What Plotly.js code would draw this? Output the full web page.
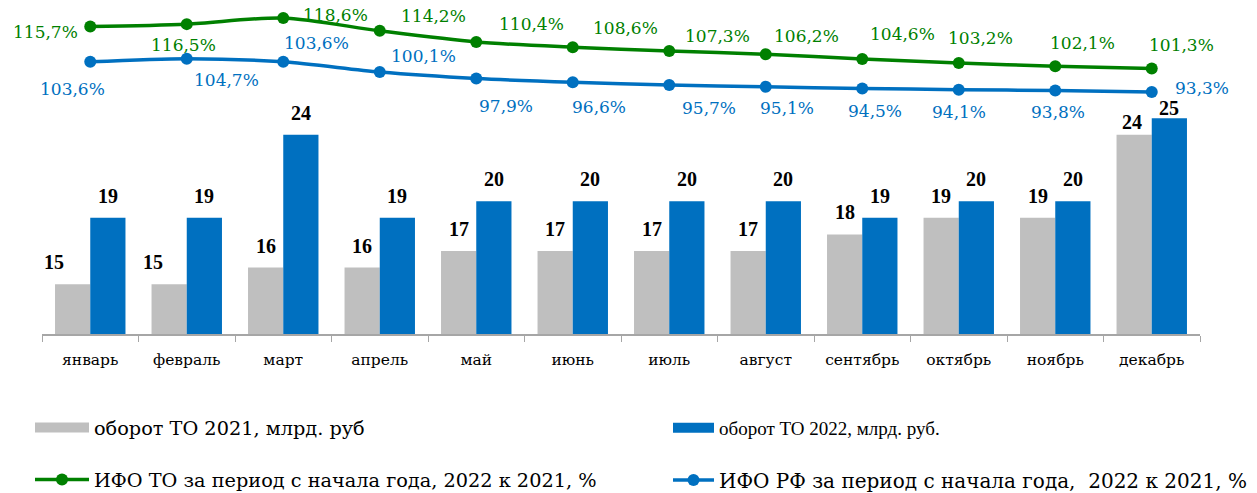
<!DOCTYPE html>
<html>
<head>
<meta charset="utf-8">
<script src="https://cdn.plot.ly/plotly-3.0.1.min.js"></script>
<style>html,body{margin:0;padding:0;background:#fff;}#chart{width:1257px;height:493px;}</style>
</head>
<body>
<div id="chart"></div>
<script>
// ---- data ----
const months = ['январь','февраль','март','апрель','май','июнь','июль','август','сентябрь','октябрь','ноябрь','декабрь'];
const turnover2021 = [15,15,16,16,17,17,17,17,18,19,19,24];
const turnover2022 = [19,19,24,19,20,20,20,20,19,20,20,25];
const ifoTO = [115.7,116.5,118.6,114.2,110.4,108.6,107.3,106.2,104.6,103.2,102.1,101.3];
const ifoRF = [103.6,104.7,103.6,100.1,97.9,96.6,95.7,95.1,94.5,94.1,93.8,93.3];
const seriesNames = ['оборот ТО 2021, млрд. руб','оборот ТО 2022, млрд. руб.','ИФО ТО за период с начала года, 2022 к 2021, %','ИФО РФ за период с начала года,  2022 к 2021, %'];

// ---- label placement (screen offsets in px) ----
const toShiftX = [-45,-3,52,54,55,53,48,41,40,22,27,30];
const toShiftY = [-6,-21,3,15,18,19,15,18,25,25,23,24];
const rfShiftX = [-18,40,33,44,30,26,40,21,13,0,3,50];
const rfShiftY = [-27,-21,19,16,-27,-25,-23,-21,-23,-22,-21,4];
const g21ShiftX = [-19,-16,0,0,0,0,0,0,0,0,0,-2];
const g21ShiftY = [22,22,22,22,22,22,22,22,22,22,22,13];
const b22ShiftY = [22,22,22,22,22,22,22,22,22,22,22,10];

const GRAY = '#BFBFBF', BLUE = '#0070C0', GREEN = '#008000';
const SERIF = 'Liberation Serif, Times New Roman, serif';
const WIDE = 'DejaVu Serif, serif';
const fmt = v => v.toFixed(1).replace('.', ',') + '%';

const traces = [
  {type:'bar', x:months, y:turnover2021, marker:{color:GRAY}, showlegend:false, hoverinfo:'skip'},
  {type:'bar', x:months, y:turnover2022, marker:{color:BLUE}, showlegend:false, hoverinfo:'skip'},
  {type:'scatter', mode:'lines+markers', x:months, y:ifoTO, yaxis:'y2', name:seriesNames[2],
   line:{color:GREEN, width:3.5, shape:'spline', smoothing:0.8}, marker:{color:GREEN, size:12},
   legend:'legend3'},
  {type:'scatter', mode:'lines+markers', x:months, y:ifoRF, yaxis:'y2', name:seriesNames[3],
   line:{color:BLUE, width:3.5, shape:'spline', smoothing:0.8}, marker:{color:BLUE, size:12},
   legend:'legend4'},
  // legend swatches for the bar series
  {type:'scatter', mode:'lines', x:[months[0]], y:[null], name:seriesNames[0],
   line:{color:GRAY, width:13}, legend:'legend', hoverinfo:'skip'},
  {type:'scatter', mode:'lines', x:[months[0]], y:[null], name:seriesNames[1],
   line:{color:BLUE, width:13}, legend:'legend2', hoverinfo:'skip'}
];

const annotations = [];
months.forEach((m, i) => {
  annotations.push({x:m, y:ifoTO[i], yref:'y2', text:fmt(ifoTO[i]), showarrow:false,
    xshift:toShiftX[i], yshift:toShiftY[i], font:{family:WIDE, size:17, color:GREEN}});
  annotations.push({x:m, y:ifoRF[i], yref:'y2', text:fmt(ifoRF[i]), showarrow:false,
    xshift:rfShiftX[i], yshift:rfShiftY[i], font:{family:WIDE, size:17, color:BLUE}});
  annotations.push({x:m, y:turnover2021[i], yref:'y', text:'<b>'+turnover2021[i]+'</b>', showarrow:false,
    xshift:-17.5 + g21ShiftX[i], yshift:g21ShiftY[i], font:{family:SERIF, size:20, color:'#000'}});
  annotations.push({x:m, y:turnover2022[i], yref:'y', text:'<b>'+turnover2022[i]+'</b>', showarrow:false,
    xshift:17.5, yshift:b22ShiftY[i], font:{family:SERIF, size:20, color:'#000'}});
});

// plot area: x 42..1200, y 10..334 (px)
const px = p => (p - 42) / 1158;
const py = p => (334 - p) / 324;
function leg(x, y, w, family, size) {
  return {xref:'paper', yref:'paper', x:x, y:y, xanchor:'left', yanchor:'middle',
    orientation:'v', itemwidth:w, bgcolor:'rgba(0,0,0,0)', borderwidth:0,
    font:{family:family, size:size, color:'#000'}};
}

const layout = {
  width:1257, height:493,
  margin:{l:42, r:57, t:10, b:159, autoexpand:false},
  paper_bgcolor:'#fff', plot_bgcolor:'#fff',
  font:{family:SERIF, size:17, color:'#000'},
  barmode:'group', bargap:0.27, bargroupgap:0,
  xaxis:{type:'category', categoryorder:'array', categoryarray:months, range:[-0.5, 11.5],
    showline:true, linecolor:'#A6A6A6', linewidth:1.5,
    ticks:'outside', tickson:'boundaries', ticklen:6, tickcolor:'#A6A6A6', tickwidth:1,
    ticklabelstandoff:11, tickangle:0, showgrid:false, zeroline:false, fixedrange:true,
    tickfont:{family:WIDE, size:15.5, color:'#000'}},
  yaxis:{range:[12, 31.52], visible:false, fixedrange:true},
  yaxis2:{range:[10.56, 121.33], overlaying:'y', visible:false, fixedrange:true},
  legend: leg(px(30), py(428), 54, WIDE, 19.3),
  legend2: leg(px(668), py(428), 41, SERIF, 19),
  legend3: leg(px(30), py(480), 54, WIDE, 19.3),
  legend4: leg(px(668), py(480), 41, WIDE, 20),
  annotations:annotations,
  showlegend:true
};

Plotly.newPlot('chart', traces, layout, {displayModeBar:false, staticPlot:true});
</script>
</body>
</html>
